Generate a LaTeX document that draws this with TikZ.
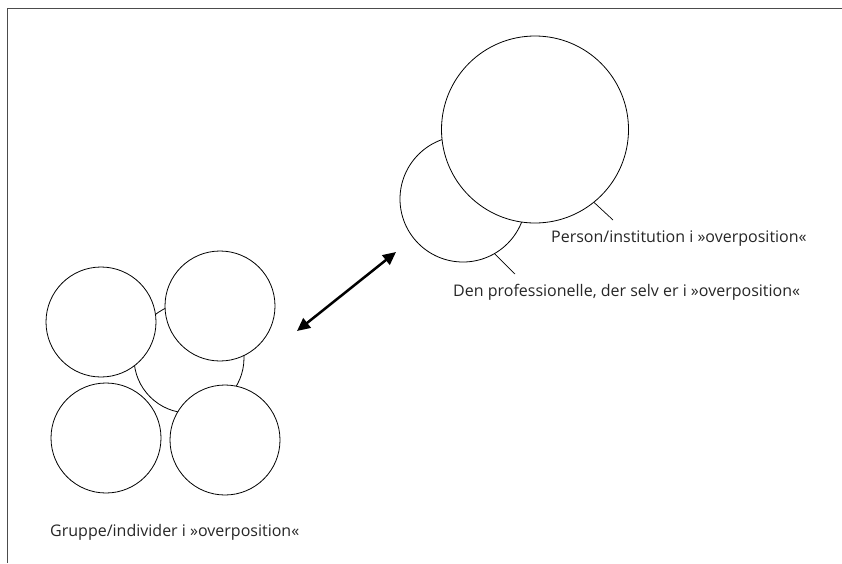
\documentclass[tikz,border=0pt]{standalone}
\usepackage{fontspec}
\setmainfont{Open Sans}
\usetikzlibrary{arrows.meta}

\tikzset{
  ring/.style={circle, draw, fill=white, inner sep=0pt, line width=0.8pt},
  caption/.style={anchor=west, inner sep=0pt, text=black!85, font=\fontsize{16}{19}\selectfont},
  pointer/.style={line width=0.7pt}
}

\begin{document}
\begin{tikzpicture}[x=1pt, y=-1pt]
    \useasboundingbox (0,0) rectangle (842,563);
    \draw[gray!60!black, line width=1pt] (842,8) -- (7,8) -- (7,563);

    % gruppen
    \node[ring, minimum size=110pt] (mid) at (189,358) {};
    \node[ring, minimum size=110pt] (tl) at (101,322) {};
    \node[ring, minimum size=110pt] (tr) at (220,306) {};
    \node[ring, minimum size=110pt] (bl) at (106,438) {};
    \node[ring, minimum size=110pt] (br) at (225,440) {};
    \node[caption] (grp) at (50,532) {Gruppe/individer i »overposition«};

    % den professionelle og personen
    \node[ring, minimum size=126pt] (prof) at (463,199) {};
    \node[ring, minimum size=187pt] (person) at (535,129.5) {};
    \node[caption] (perslbl) at (551,239) {Person/institution i »overposition«};
    \node[caption] (proflbl) at (453,292) {Den professionelle, der selv er i »overposition«};
    \coordinate (perstip) at (613,220);
    \coordinate (proftip) at (515,274);
    \draw[pointer] (person.-51) -- (perstip);
    \draw[pointer] (prof.-60) -- (proftip);

    \coordinate (from) at (297,331);
    \coordinate (to) at (396,252);
    \draw[{Triangle[length=13pt,width=12pt]}-{Triangle[length=13pt,width=12pt]}, line width=2.5pt] (from) -- (to);
\end{tikzpicture}
\end{document}
